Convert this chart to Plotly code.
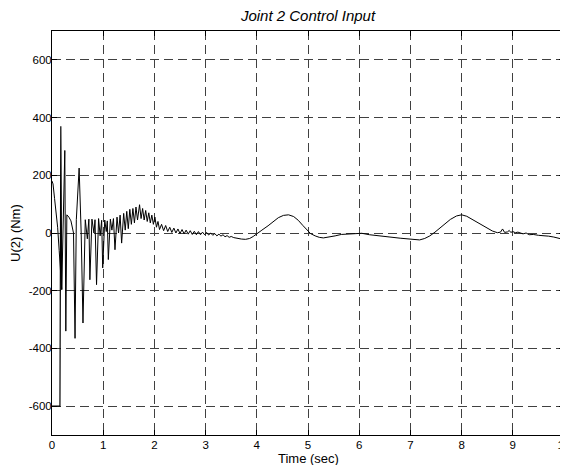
import plotly.graph_objects as go

# Main control input trace (time in sec, torque in Nm)
time_s = [0.00, 0.02, 0.05, 0.08, 0.11, 0.14, 0.165, 0.19, 0.25, 0.27, 0.29, 0.33, 0.37, 0.40, 0.42,
          0.45, 0.475, 0.53, 0.57, 0.605, 0.65, 0.69, 0.72, 0.74, 0.78, 0.82, 0.84, 0.87, 0.91, 0.94,
          0.97, 0.99, 1.03, 1.06, 1.08, 1.10, 1.14, 1.17, 1.20, 1.23, 1.27, 1.30, 1.33, 1.36, 1.40,
          1.43, 1.46, 1.49, 1.52, 1.55, 1.58, 1.61, 1.64, 1.67, 1.71, 1.74, 1.77, 1.80, 1.83, 1.86,
          1.89, 1.92, 1.95, 1.98, 2.01, 2.04, 2.07, 2.10, 2.14, 2.18, 2.22, 2.26, 2.30, 2.34, 2.38,
          2.42, 2.46, 2.50, 2.54, 2.58, 2.62, 2.66, 2.70, 2.74, 2.78, 2.82, 2.86, 2.90, 2.94, 2.98,
          3.02, 3.06, 3.10, 3.14, 3.18, 3.22, 3.26, 3.30, 3.34, 3.38, 3.42, 3.46, 3.50, 3.55, 3.62,
          3.70, 3.78, 3.86, 3.93, 4.00, 4.10, 4.22, 4.32, 4.42, 4.52, 4.62, 4.72, 4.81, 4.90, 4.97,
          5.05, 5.14, 5.22, 5.30, 5.40, 5.53, 5.65, 5.80, 5.95, 6.05, 6.20, 6.40, 6.60, 6.80, 6.95,
          7.08, 7.18, 7.28, 7.38, 7.48, 7.58, 7.68, 7.78, 7.90, 8.00, 8.10, 8.20, 8.30, 8.40, 8.50,
          8.60, 8.70, 8.76, 8.80, 8.84, 8.90, 8.93, 8.96, 9.00, 9.05, 9.10, 9.20, 9.26, 9.32, 9.40,
          9.50, 9.60, 9.70, 9.80, 9.90, 9.96, 10.00]
u2_nm = [180, 170, 120, 70, 20, -60, -140, -196, 286, -340, 63, 55, 42, 22, 0,
         -365, 46, 225, 0, -312, 46, -20, 48, -162, 48, 0, 46, -179, 50, -10,
         44, -121, 45, 5, 42, -92, 48, 10, 50, -58, 55, 0, 62, -35, 68,
         10, 75, 15, 82, 30, 85, 35, 90, 45, 98, 50, 85, 45, 78, 40,
         70, 35, 62, 30, 55, 20, 40, 12, 30, 8, 26, 5, 20, 2, 17,
         0, 14, -2, 12, -3, 10, -4, 8, -5, 6, -6, 5, -6, 3, -6,
         2, -7, 0, -8, -2, -10, -4, -11, -6, -13, -9, -15, -12, -16, -19,
         -21, -22, -19, -12, -4, 10, 25, 40, 53, 61, 63, 57, 44, 26, 12,
         -2, -10, -15, -17, -15, -10, -5, -3, -1, -1, -6, -11, -14, -18, -21,
         -24, -24, -19, -10, 3, 17, 33, 47, 59, 63, 58, 48, 36, 25, 15,
         7, 1, 3, 14, 2, 4, 9, 2, 5, 1, 3, -3, 0, -6, -5,
         -8, -9, -11, -14, -17, -21, -19]

# Initial saturated segment
sat_time_s = [0.00, 0.155, 0.172, 0.19]
sat_u2_nm = [-600, -600, 370, -196]

x_tick_vals = [0, 1, 2, 3, 4, 5, 6, 7, 8, 9, 10]
x_tick_text = ["0", "1", "2", "3", "4", "5", "6", "7", "8", "9", "10"]
y_tick_vals = [-600, -400, -200, 0, 200, 400, 600]
y_tick_text = ["-600", "-400", "-200", "0", "200", "400", "600"]

font_family = "Liberation Sans, Arial, sans-serif"

# Figure sized to sit inside the page's default 8px body margin without scrollbars
W, H = 560, 457
ML, MR, MT, MB = 44, 4, 23, 30

fig = go.Figure()
fig.add_trace(go.Scatter(x=sat_time_s, y=sat_u2_nm, mode="lines",
                         line=dict(color="black", width=1.2), showlegend=False, hoverinfo="skip"))
fig.add_trace(go.Scatter(x=time_s, y=u2_nm, mode="lines",
                         line=dict(color="black", width=1), showlegend=False))

axis_common = dict(
    showline=True, linecolor="black", linewidth=1, mirror="ticks",
    ticks="inside", ticklen=5, tickcolor="black", tickwidth=1,
    showgrid=True, gridcolor="#404040", gridwidth=1, griddash="9px,5px",
    zeroline=False, automargin=False, ticklabeloverflow="allow",
    tickfont=dict(family=font_family, size=11.5, color="black"),
)

fig.update_layout(
    width=W, height=H,
    margin=dict(l=ML, r=MR, t=MT, b=MB),
    paper_bgcolor="white", plot_bgcolor="white",
    title=dict(text="<i>Joint 2 Control Input</i>", x=(ML + (W - ML - MR) / 2) / W, xanchor="center",
               y=1 - 7.5 / H, yanchor="middle",
               font=dict(family=font_family, size=15, color="black")),
    font=dict(family=font_family, color="black"),
    annotations=[
        dict(text="Time (sec)", xref="paper", yref="paper", x=0.5, y=0,
             xanchor="center", yanchor="middle", yshift=-23, showarrow=False,
             font=dict(family=font_family, size=13, color="black")),
        dict(text="U(2) (Nm)", xref="paper", yref="paper", x=0, y=0.5, textangle=-90,
             xanchor="center", yanchor="middle", xshift=-37, showarrow=False,
             font=dict(family=font_family, size=13, color="black")),
    ],
)
fig.update_xaxes(range=[0, 10], tickvals=x_tick_vals, ticktext=x_tick_text,
                 ticklabelstandoff=-1, **axis_common)
fig.update_yaxes(range=[-700, 700], tickvals=y_tick_vals, ticktext=y_tick_text,
                 ticklabelstandoff=-3, **axis_common)

fig.write_html("out.html")
